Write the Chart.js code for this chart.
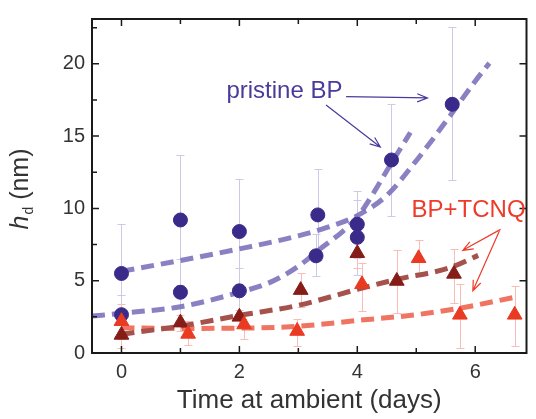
<!DOCTYPE html>
<html>
<head>
<meta charset="utf-8">
<script src="https://cdn.jsdelivr.net/npm/chart.js@4.4.1/dist/chart.umd.min.js"></script>
<style>
  html, body { margin: 0; padding: 0; background: #fff; }
  #wrap { width: 536px; height: 419px; }
</style>
</head>
<body>
<div id="wrap"><canvas id="c" width="536" height="419"></canvas></div>
<script>
// pristine BP (circles) with error bar limits
const bpX  = [0, 0, 1, 1, 2, 2, 3.33, 3.3, 4, 4, 4.58, 5.61];
const bpY  = [5.5, 2.65, 9.2, 4.2, 8.4, 4.3, 9.55, 6.72, 8.9, 8.0, 13.35, 17.2];
const bpHi = [8.9, 4.0, 13.7, 6.5, 12.0, 5.9, 12.7, 8.2, 11.2, 10.6, 17.25, 22.55];
const bpLo = [2.1, 1.3, 4.7, 1.9, 4.8, 2.7, 6.4, 5.3, 6.6, 5.4, 9.45, 11.97];

// BP+TCNQ, dark red triangles
const darkX  = [0, 1, 2, 3.04, 4, 4.67, 5.64];
const darkY  = [1.25, 2.1, 2.5, 4.35, 6.9, 4.98, 5.47];
const darkHi = [2.5, 2.6, 3.0, 5.5, 7.9, 7.1, 7.2];
const darkLo = [0.35, 1.5, 1.9, 3.2, 5.9, 2.8, 3.46];

// BP+TCNQ, red triangles
const redX  = [0, 1.13, 2.08, 2.98, 4.08, 5.04, 5.74, 6.67];
const redY  = [2.2, 1.32, 1.97, 1.52, 4.75, 6.55, 2.64, 2.64];
const redHi = [3.4, 2.2, 2.6, 2.35, 6.2, 7.8, 4.8, 4.6];
const redLo = [1.0, 0.58, 1.0, 0.5, 2.9, 5.3, 0.36, 0.5];

// dashed fit curves
const fitUpX = [0, 1, 2, 3, 3.5, 4, 4.5, 5, 5.5, 6, 6.24];
const fitUpY = [5.65, 6.4, 7.2, 8.1, 8.7, 9.5, 10.9, 13.3, 16.0, 18.8, 20.05];
const fitLowX = [-0.5, 0, 1, 2, 2.5, 3, 3.4, 3.75, 4, 4.25, 4.5, 4.9];
const fitLowY = [2.55, 2.75, 3.2, 4.2, 4.85, 6.0, 7.3, 8.4, 9.4, 10.9, 12.6, 15.25];
const fitDarkX = [0, 1, 2, 3, 4, 4.68, 5.57, 6.05];
const fitDarkY = [1.3, 1.86, 2.6, 3.3, 4.4, 5.1, 5.9, 6.75];
const fitRedX = [0, 1, 2, 3, 4, 5, 5.74, 6.68];
const fitRedY = [1.75, 1.7, 1.72, 1.85, 2.25, 2.65, 3.1, 3.86];

// axis ticks
const xTickVals = [0, 1, 2, 3, 4, 5, 6];
const xTickLabels = [0, 2, 4, 6];
const yTickVals = [0, 2.5, 5, 7.5, 10, 12.5, 15, 17.5, 20, 22.5];
const yTickLabels = [0, 5, 10, 15, 20];

const pts = (xs, ys) => xs.map((v, i) => ({ x: v, y: ys[i] }));

const C = {
  blue: '#3a2a8a', blueFit: 'rgba(125,115,188,0.9)', blueErr: '#cdc9e8',
  dark: '#861c17', darkFit: '#a5524d',
  red: '#e93a22', redFit: '#f07462', redErr: '#f7bdb6',
  axis: '#1a1a1a', text: '#333333'
};
const FONT = '"Liberation Sans", Arial, sans-serif';

function drawErr(ctx, x, y, xs, lo, hi, color) {
  ctx.strokeStyle = color;
  ctx.lineWidth = 1;
  xs.forEach((v, i) => {
    const px = Math.round(x.getPixelForValue(v)) + 0.5;
    const y1 = Math.round(y.getPixelForValue(lo[i])) + 0.5;
    const y2 = Math.round(y.getPixelForValue(hi[i])) + 0.5;
    ctx.beginPath();
    ctx.moveTo(px, y1); ctx.lineTo(px, y2);
    ctx.moveTo(px - 4, y1); ctx.lineTo(px + 4, y1);
    ctx.moveTo(px - 4, y2); ctx.lineTo(px + 4, y2);
    ctx.stroke();
  });
}

function arrow(ctx, x, y, a, color) {
  const x0 = x.getPixelForValue(a[0]), y0 = y.getPixelForValue(a[1]);
  const x1 = x.getPixelForValue(a[2]), y1 = y.getPixelForValue(a[3]);
  const ang = Math.atan2(y1 - y0, x1 - x0);
  ctx.strokeStyle = color;
  ctx.lineWidth = 1.2;
  ctx.beginPath();
  ctx.moveTo(x0, y0); ctx.lineTo(x1, y1);
  ctx.moveTo(x1 - 11 * Math.cos(ang - 0.38), y1 - 11 * Math.sin(ang - 0.38));
  ctx.lineTo(x1, y1);
  ctx.lineTo(x1 - 11 * Math.cos(ang + 0.38), y1 - 11 * Math.sin(ang + 0.38));
  ctx.stroke();
}

// annotation anchors, in data units
const bpLabelAt = [1.78, 18.06];
const bpArrows = [[3.81, 17.73, 5.19, 17.64], [3.47, 17.15, 4.39, 14.25]];
const tcnqLabelAt = [4.92, 9.89];
const tcnqArrows = [[6.43, 8.55, 5.79, 7.10], [6.41, 8.44, 5.96, 4.31]];

const decor = {
  id: 'decor',
  beforeDatasetsDraw(chart) {
    const { ctx, scales: { x, y } } = chart;
    ctx.save();
    drawErr(ctx, x, y, bpX, bpLo, bpHi, C.blueErr);
    drawErr(ctx, x, y, redX, redLo, redHi, C.redErr);
    drawErr(ctx, x, y, darkX, darkLo, darkHi, C.redErr);
    ctx.restore();
  },
  afterDraw(chart) {
    const { ctx, chartArea: a, scales: { x, y } } = chart;
    ctx.save();
    // frame
    ctx.strokeStyle = C.axis;
    ctx.lineWidth = 2;
    ctx.strokeRect(a.left, a.top, a.right - a.left, a.bottom - a.top);
    // inward ticks
    ctx.lineWidth = 1.5;
    ctx.beginPath();
    xTickVals.forEach(v => {
      const px = x.getPixelForValue(v);
      const len = xTickLabels.includes(v) ? 7 : 5;
      ctx.moveTo(px, a.bottom); ctx.lineTo(px, a.bottom - len);
      ctx.moveTo(px, a.top); ctx.lineTo(px, a.top + len);
    });
    yTickVals.forEach(v => {
      const py = y.getPixelForValue(v);
      const major = yTickLabels.includes(v);
      const len = major ? 7 : 5;
      ctx.moveTo(a.left, py); ctx.lineTo(a.left + len, py);
      if (major) { ctx.moveTo(a.right, py); ctx.lineTo(a.right - len, py); }
    });
    ctx.stroke();

    // annotations
    ctx.textBaseline = 'middle';
    ctx.textAlign = 'left';
    ctx.font = '24px ' + FONT;
    ctx.fillStyle = '#4a3a9c';
    ctx.fillText('pristine BP', x.getPixelForValue(bpLabelAt[0]), y.getPixelForValue(bpLabelAt[1]));
    bpArrows.forEach(ar => arrow(ctx, x, y, ar, '#4a3a9c'));
    ctx.fillStyle = '#ee3b2a';
    ctx.fillText('BP+TCNQ', x.getPixelForValue(tcnqLabelAt[0]), y.getPixelForValue(tcnqLabelAt[1]));
    tcnqArrows.forEach(ar => arrow(ctx, x, y, ar, '#ee3b2a'));

    // y axis title: italic h, subscript d, then (nm)
    ctx.fillStyle = C.text;
    ctx.translate(28, 189);
    ctx.rotate(-Math.PI / 2);
    ctx.textBaseline = 'alphabetic';
    const fH = 'italic 25px ' + FONT, fD = '14px ' + FONT, fR = '25px ' + FONT;
    ctx.font = fH; const wH = ctx.measureText('h').width;
    ctx.font = fD; const wD = ctx.measureText('d').width;
    ctx.font = fR; const wR = ctx.measureText(' (nm)').width;
    let sx = -(wH + wD + 1 + wR) / 2;
    ctx.font = fH; ctx.fillText('h', sx, 0); sx += wH + 1;
    ctx.font = fD; ctx.fillText('d', sx, 5); sx += wD;
    ctx.font = fR; ctx.fillText(' (nm)', sx, 0);
    ctx.restore();
  }
};

const lineDs = (xs, ys, color) => ({
  data: pts(xs, ys), showLine: true, borderColor: color, borderWidth: 5,
  borderDash: [13, 7], pointRadius: 0, cubicInterpolationMode: 'monotone',
  fill: false, order: 2
});
const markDs = (xs, ys, color, style, r) => ({
  data: pts(xs, ys), showLine: false, pointStyle: style, pointRadius: r,
  backgroundColor: color, borderColor: color, borderWidth: 1, order: 0
});

new Chart(document.getElementById('c'), {
  type: 'scatter',
  data: {
    datasets: [
      lineDs(fitUpX, fitUpY, C.blueFit),
      lineDs(fitLowX, fitLowY, C.blueFit),
      lineDs(fitDarkX, fitDarkY, C.darkFit),
      lineDs(fitRedX, fitRedY, C.redFit),
      markDs(redX, redY, C.red, 'triangle', 8.5),
      markDs(darkX, darkY, C.dark, 'triangle', 8.5),
      markDs(bpX, bpY, C.blue, 'circle', 7)
    ]
  },
  options: {
    responsive: false,
    animation: false,
    layout: { padding: { top: 8, right: 1, left: 0, bottom: 0 } },
    plugins: { legend: { display: false }, tooltip: { enabled: false } },
    scales: {
      x: {
        type: 'linear', min: -0.5, max: 6.87,
        grid: { display: false, drawTicks: false },
        border: { display: false },
        afterFit: s => { s.height = 66; },
        afterBuildTicks: s => { s.ticks = xTickLabels.map(v => ({ value: v })); },
        ticks: { color: C.text, padding: 7, font: { family: FONT, size: 20 }, autoSkip: false, maxRotation: 0 },
        title: { display: true, text: 'Time at ambient (days)', color: C.text,
                 font: { family: FONT, size: 26 }, padding: { top: 0, bottom: 3 } }
      },
      y: {
        type: 'linear', min: 0, max: 23.1,
        grid: { display: false, drawTicks: false },
        border: { display: false },
        afterFit: s => { s.width = 92; },
        afterBuildTicks: s => { s.ticks = yTickLabels.map(v => ({ value: v })); },
        ticks: { color: C.text, padding: 7, font: { family: FONT, size: 20 } }
      }
    }
  },
  plugins: [decor]
});
</script>
</body>
</html>
